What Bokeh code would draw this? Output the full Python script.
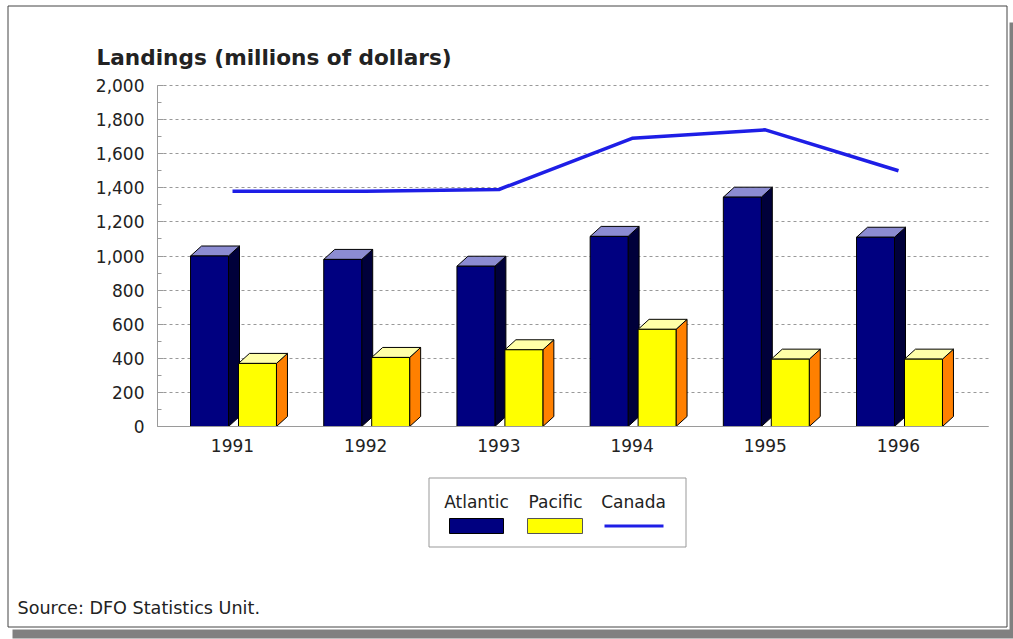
from bokeh.plotting import figure
from bokeh.models import (Range1d, FixedTicker, NumeralTickFormatter, Label,
                          BoxAnnotation, ColumnDataSource)
from bokeh.embed import file_html
from bokeh.resources import INLINE

# ---- data ----
years = ["1991", "1992", "1993", "1994", "1995", "1996"]
atlantic = [1000, 980, 940, 1115, 1345, 1110]
pacific = [370, 405, 450, 570, 395, 395]
canada = [1380, 1380, 1390, 1690, 1740, 1500]
y_ticks = list(range(0, 2001, 200))

W, H = 1013, 639
FONT = "DejaVu Sans"
TXT = "#222222"

# page-pixel -> data helpers (used only for decorations / layout)
PXX, X0PX = 133.2, 232.0      # px per category, px of first category
PXY, Y0PX = 341.0 / 2000, 426.0
def X(px): return (px - X0PX) / PXX
def Y(py): return (Y0PX - py) / PXY

p = figure(width=W, height=H, output_backend="svg", toolbar_location=None,
           x_range=Range1d(X(0), X(W)), y_range=Range1d(Y(H), Y(0)),
           min_border=0, min_border_left=0, min_border_right=0,
           min_border_top=0, min_border_bottom=0,
           background_fill_color="white", border_fill_color="white",
           outline_line_color=None)

# ---- page frame and shadow ----
def box(l, t, r, b, fill, line=None, level="image"):
    bx = BoxAnnotation(left=X(l), right=X(r), top=Y(t), bottom=Y(b),
                       fill_color=fill if fill else "white",
                       fill_alpha=1 if fill else 0,
                       line_color=line if line else "white",
                       line_alpha=1 if line else 0,
                       line_width=1, level=level)
    p.add_layout(bx)
    return bx

box(12, 22, 1014, 638, "#808080")
box(5, 3, 1009, 629, "white")
box(7.5, 5.5, 1006.5, 626.5, "white", "#444444")

# ---- axes ----
p.yaxis.fixed_location = X(157)
p.yaxis.bounds = (0, 2000)
p.yaxis.ticker = FixedTicker(ticks=y_ticks, minor_ticks=list(range(100, 2000, 200)))
p.yaxis.formatter = NumeralTickFormatter(format="0,0")
p.yaxis.axis_line_color = "#9a9a9a"
p.yaxis.major_tick_line_color = "#9a9a9a"
p.yaxis.minor_tick_line_color = "#9a9a9a"
p.yaxis.major_tick_in = 6
p.yaxis.major_tick_out = 0
p.yaxis.minor_tick_in = 4
p.yaxis.minor_tick_out = 0
p.yaxis.major_label_standoff = 13
p.yaxis.major_label_text_font = FONT
p.yaxis.major_label_text_font_size = "17px"
p.yaxis.major_label_text_color = TXT

p.xaxis.fixed_location = 0
p.xaxis.bounds = (X(157), X(988))
p.xaxis.ticker = FixedTicker(ticks=list(range(len(years))))
p.xaxis.major_label_overrides = {i: y for i, y in enumerate(years)}
p.xaxis.axis_line_color = "#9a9a9a"
p.xaxis.major_tick_line_color = None
p.xaxis.minor_tick_line_color = None
p.xaxis.major_tick_in = 0
p.xaxis.major_tick_out = 0
p.xaxis.major_label_standoff = 12
p.xaxis.major_label_text_font = FONT
p.xaxis.major_label_text_font_size = "17px"
p.xaxis.major_label_text_color = TXT

p.xgrid.visible = False
grid_ok = True
try:
    p.ygrid.cross_bounds = (X(157), X(988))
except Exception:
    grid_ok = False
if grid_ok:
    p.ygrid.grid_line_color = "#999999"
    p.ygrid.grid_line_dash = "3 3"
    p.ygrid.grid_line_width = 1
else:
    p.ygrid.visible = False
    gy = y_ticks[1:]
    p.segment(x0=[X(157)] * len(gy), x1=[X(988)] * len(gy), y0=gy, y1=gy,
              line_color="#999999", line_dash="3 3", line_width=1)

# ---- 3D bars ----
DX = 11 / PXX   # depth in x units (~11 px)
DY = 10 / PXY   # depth in y units (~10 px)

def bars(vals, off0, off1, c_front, c_side, c_top):
    fx0, fx1, fy = [], [], []
    sx, sy, tx, ty = [], [], [], []
    for i, v in enumerate(vals):
        x0, x1 = i + off0, i + off1
        fx0.append(x0); fx1.append(x1); fy.append(v)
        sx.append([x1, x1 + DX, x1 + DX, x1])
        sy.append([0, DY, v + DY, v])
        tx.append([x0, x1, x1 + DX, x0 + DX])
        ty.append([v, v, v + DY, v + DY])
    p.patches(sx, sy, fill_color=c_side, line_color="black", line_width=1)
    p.patches(tx, ty, fill_color=c_top, line_color="black", line_width=1)
    p.quad(left=fx0, right=fx1, bottom=0, top=fy, fill_color=c_front,
           line_color="black", line_width=1)

bars(atlantic, -0.315, -0.030, "#000080", "#00003a", "#8c8cd2")
bars(pacific, 0.045, 0.330, "#ffff00", "#ff8000", "#ffffa8")

# ---- Canada line ----
src = ColumnDataSource(dict(x=list(range(len(years))), y=canada))
p.line("x", "y", source=src, line_color="#1e1ee6", line_width=3.5)

# ---- texts ----
def label(px, py, text, size="17px", bold=False, align="left"):
    lb = Label(x=X(px), y=Y(py), text=text,
               text_font=FONT, text_font_size=size,
               text_font_style="bold" if bold else "normal",
               text_color=TXT, text_align=align, text_baseline="alphabetic")
    p.add_layout(lb)

label(96, 57, "Landings (millions of dollars)", size="21.6px", bold=True)
label(17, 607, "Source: DFO Statistics Unit.", size="17.6px")

# ---- legend ----
box(428.5, 477.5, 685.5, 546.5, "white", "#999999", level="annotation")
box(449, 518, 503, 533, "#000080", "#000000", level="annotation")
box(527, 518, 582, 533, "#ffff00", "#555555", level="annotation")
box(604, 524, 663, 527, "#1e1ee6", None, level="annotation")
label(476, 501, "Atlantic", align="center")
label(555, 501, "Pacific", align="center")
label(633, 501, "Canada", align="center")

open("out.html", "w").write(file_html(p, INLINE))
